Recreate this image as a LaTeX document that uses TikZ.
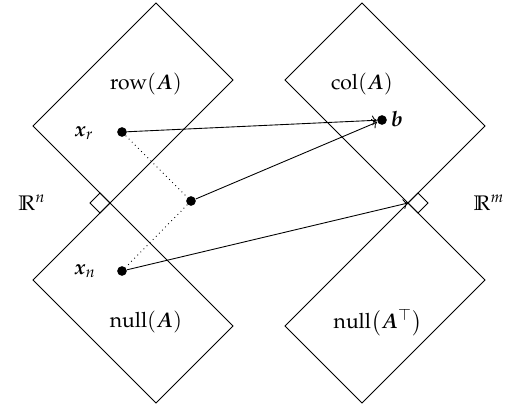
\documentclass[tikz,border=0pt]{standalone}
\usepackage{amsmath}
\usepackage{amssymb}
\usepackage{mathpazo}
\usepackage{bm}
\usepackage{tikz}
\usetikzlibrary{arrows,arrows.meta,positioning,calc}
\newcommand{\vA}{\bm{A}}
\newcommand{\vb}{\bm{b}}
\newcommand{\vx}{\bm{x}}
\tikzset{
    % Subspace boxes
    subspace/.style={draw, line width=0.5pt, line join=miter},
    rightangle/.style={draw, line width=0.5pt},
    % Vectors
    vecdot/.style={circle, fill, inner sep=0pt, minimum size=5.5pt},
    spaceLabel/.style={font=\large, inner sep=1pt},
    vecLabel/.style={font=\large, inner sep=1pt},
    % Arrows
    mapArrow/.style={->, line width=0.5pt},
    projLine/.style={dotted, line width=0.5pt}
}

\begin{document}
\begin{tikzpicture}[x=0.02cm, y=-0.02cm]

\useasboundingbox (0,0) rectangle (515,409);

% --- Origins of the two spaces ---
\coordinate (O1) at (110,203);
\coordinate (O2) at (408,203);

% --- Domain R^n: row space and null space ---
\draw[subspace] (O1) -- ++(-77,-77) -- ++(123,-123) -- ++(77,77) -- cycle;
\draw[subspace] (O1) -- ++(-77,77) -- ++(123,123) -- ++(77,-77) -- cycle;
\draw[rightangle] (O1) -- ++(-10,-10) -- ++(-10,10) -- ++(10,10) -- cycle;

% --- Codomain R^m: column space and left null space ---
\draw[subspace] (O2) -- ++(-123,-123) -- ++(77,-77) -- ++(123,123) -- cycle;
\draw[subspace] (O2) -- ++(-123,123) -- ++(77,77) -- ++(123,-123) -- cycle;
\draw[rightangle] (O2) -- ++(10,-10) -- ++(10,10) -- ++(-10,10) -- cycle;

% --- Space labels ---
\node[spaceLabel] (row)   at (146,84)  {$\operatorname{row}(\vA)$};
\node[spaceLabel] (null)  at (146,322) {$\operatorname{null}(\vA)$};
\node[spaceLabel] (col)   at (362,84)  {$\operatorname{col}(\vA)$};
\node[spaceLabel] (lnull) at (378,323) {$\operatorname{null}\bigl(\vA^{\top}\bigr)$};
\node[spaceLabel] (Rn)    at (32,203)  {$\mathbb{R}^n$};
\node[spaceLabel] (Rm)    at (489,203) {$\mathbb{R}^m$};

% --- Vectors ---
\node[vecdot] (xr) at (122,132) {};
\node[vecdot] (x)  at (191,201) {};
\node[vecdot] (xn) at (122,271) {};
\node[vecdot] (b)  at (382,120) {};

\node[vecLabel] (xrlabel) at (84,133) {$\vx_r$};
\node[vecLabel] (xnlabel) at (85,271) {$\vx_n$};
\node[vecLabel] (blabel)  at (397,119) {$\vb$};

% Decomposition x = x_r + x_n
\draw[projLine] (xr) -- (x) -- (xn);

% Maps into R^m
\draw[mapArrow] (xr) -- (b);
\draw[mapArrow] (x) -- (b);
\draw[mapArrow] (xn) -- (O2);

\end{tikzpicture}
\end{document}
